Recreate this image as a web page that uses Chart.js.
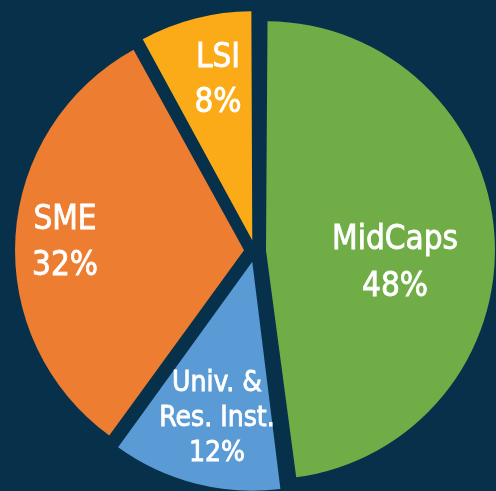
<!DOCTYPE html>
<html>
<head>
<meta charset="utf-8">
<script src="https://cdn.jsdelivr.net/npm/chart.js@4/dist/chart.umd.min.js"></script>
<style>
  html, body { margin: 0; padding: 0; background: #07304A; }
  #wrap { position: relative; width: 496px; height: 491px; overflow: hidden; }
</style>
</head>
<body>
<div id="wrap"><canvas id="c"></canvas></div>
<script>
// ---- data ----
const categories = ['MidCaps', 'Univ. & Res. Inst.', 'SME', 'LSI'];
const shares = [48, 12, 32, 8];
const labelLines = [['MidCaps'], ['Univ. &', 'Res. Inst.'], ['SME'], ['LSI']];

// ---- style ----
const bg = '#07304A';
const colors = ['#70AD47', '#5B9BD5', '#ED7D31', '#FBAB18'];
const R = 229;          // drawn outer radius
const OFFSET = 44;      // chart.js translates by offset/4
// label placement relative to the pie centre: [dx, first baseline dy, line height, font px]
const labelLayout = [
  [140, -2, 47, 33],
  [-38, 140, 35, 28],
  [-190, -22, 46, 33],
  [-37, -184, 45, 33]
];
const fontFamily = '"DejaVu Sans Condensed", "Liberation Sans Narrow", "DejaVu Sans", sans-serif';

const equalRadius = {
  id: 'equalRadius',
  afterDatasetUpdate(chart, args) {
    args.meta.data.forEach(arc => {
      const circ = arc.circumference;
      const fix = 1 - Math.sin(Math.min(Math.PI, circ || 0));
      arc.outerRadius = R - (OFFSET / 4) * fix;
    });
  }
};

const sliceLabels = {
  id: 'sliceLabels',
  afterDatasetsDraw(chart) {
    const meta = chart.getDatasetMeta(0);
    const ctx = chart.ctx;
    ctx.save();
    ctx.fillStyle = '#FFFFFF';
    ctx.textAlign = 'center';
    ctx.textBaseline = 'alphabetic';
    meta.data.forEach((arc, i) => {
      const [dx, dy, lh, fs] = labelLayout[i];
      ctx.font = 'normal ' + fs + 'px ' + fontFamily;
      const lines = labelLines[i].concat([shares[i] + '%']);
      lines.forEach((t, k) => {
        const x = arc.x + dx, y = arc.y + dy + k * lh;
        ctx.fillText(t, x, y);
        ctx.lineWidth = 0.8;
        ctx.strokeStyle = '#FFFFFF';
        ctx.strokeText(t, x, y);
      });
    });
    ctx.restore();
  }
};

new Chart(document.getElementById('c'), {
  type: 'pie',
  data: {
    labels: categories,
    datasets: [{
      data: shares,
      backgroundColor: colors,
      borderWidth: 0,
      offset: OFFSET,
      hoverOffset: OFFSET,
      radius: R,
      clip: false
    }]
  },
  options: {
    responsive: true,
    maintainAspectRatio: false,
    animation: false,
    events: [],
    layout: { padding: { left: 14, top: 11, right: 0, bottom: 0 } },
    plugins: { legend: { display: false }, tooltip: { enabled: false } }
  },
  plugins: [equalRadius, sliceLabels]
});
</script>
</body>
</html>
